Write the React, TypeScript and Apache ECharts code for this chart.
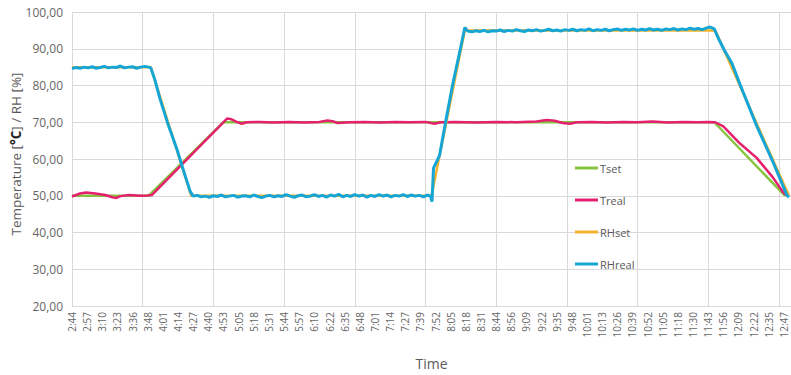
import React, { useEffect, useRef } from "react";
import * as echarts from "echarts";

// Time labels shown every 15 samples along the time axis (sample index 0..712)
const timeLabels = [
  "2:44", "2:57", "3:10", "3:23", "3:36", "3:48", "4:01", "4:14", "4:27", "4:40",
  "4:53", "5:05", "5:18", "5:31", "5:44", "5:57", "6:10", "6:22", "6:35", "6:48",
  "7:01", "7:14", "7:27", "7:39", "7:52", "8:05", "8:18", "8:31", "8:44", "8:56",
  "9:09", "9:22", "9:35", "9:48", "10:01", "10:13", "10:26", "10:39", "10:52", "11:05",
  "11:18", "11:30", "11:43", "11:56", "12:09", "12:22", "12:35", "12:47",
];
const LABEL_STEP = 15;
const GRID_STEP = 70;
const X_MAX = 712;

// [sample index, value]
const tSet = [[0, 50], [76, 50], [150, 70], [636, 70], [706, 50]];
const tReal = [
  [0, 49.8], [8, 50.6], [14, 50.9], [23, 50.6], [33, 50.2], [40, 49.6], [44, 49.4], [48, 49.9],
  [57, 50.2], [67, 50.0], [75, 50.1], [79, 50.2], [153.5, 71.0], [158, 70.8], [163, 70.1],
  [168, 69.6], [173, 70.0], [186, 70.1], [200, 69.9], [215, 70.1], [230, 69.9], [245, 70.1],
  [253, 70.5], [258, 70.3], [263, 69.8], [275, 70.0], [290, 70.1], [305, 69.9], [320, 70.1],
  [335, 70.0], [350, 70.1], [359, 69.6], [365, 70.0], [380, 70.1], [400, 69.9], [420, 70.1],
  [440, 70.0], [460, 70.2], [470, 70.6], [478, 70.4], [486, 69.8], [493, 69.6], [500, 70.0],
  [515, 70.1], [530, 69.9], [545, 70.1], [560, 70.0], [575, 70.2], [590, 69.9], [605, 70.1],
  [620, 70.0], [630, 70.1], [637, 70.0], [645, 68.9], [661.5, 64.2], [678, 60.3], [694, 55.0],
  [704, 51.0], [708, 50.0],
];
const rhSet = [[0, 85], [78, 85], [118, 50], [356, 50], [389, 95], [637, 95], [710, 50]];
const rhReal = [
  [0, 84.6], [4, 84.9], [8, 84.7], [12, 85.0], [16, 84.8], [20, 85.1], [24, 84.7], [28, 84.9],
  [32, 85.2], [36, 84.8], [40, 85.0], [44, 84.9], [48, 85.3], [52, 84.8], [56, 85.0], [60, 85.1],
  [64, 84.7], [68, 85.0], [72, 85.2], [76, 85.0], [78, 84.8],
  [82, 81.6], [87, 76.5], [95, 69.5], [104, 62.6], [110, 57.2], [117, 51.2], [120, 49.9],
  [124, 50.1], [128, 49.7], [132, 49.9], [136, 49.6], [140, 50.0], [144, 49.8], [148, 50.2],
  [152, 49.7], [156, 49.9], [160, 50.1], [164, 49.6], [168, 49.9], [172, 50.0], [176, 49.7],
  [180, 50.2], [184, 49.8], [188, 49.5], [192, 49.9], [196, 50.1], [200, 49.7], [204, 50.0],
  [208, 49.8], [212, 50.3], [216, 49.9], [220, 49.6], [224, 50.0], [228, 50.2], [232, 49.7],
  [236, 49.9], [240, 50.3], [244, 49.8], [248, 50.1], [252, 49.6], [256, 50.2], [260, 49.9],
  [264, 50.4], [268, 49.7], [272, 50.1], [276, 49.8], [280, 50.3], [284, 49.9], [288, 50.2],
  [292, 49.6], [296, 50.1], [300, 49.8], [304, 50.3], [308, 49.9], [312, 50.2], [316, 49.7],
  [320, 50.1], [324, 49.9], [328, 50.3], [332, 49.8], [336, 50.2], [340, 49.9], [344, 50.1],
  [348, 49.7], [352, 50.2], [355, 49.9],
  [356.5, 48.4], [358, 57.5], [364, 61.0], [371, 71.6], [377, 80.3], [384, 89.2], [389, 95.8],
  [392, 94.8], [396, 94.6], [400, 94.9], [404, 94.7], [408, 95.0], [412, 94.6], [416, 94.9],
  [420, 94.8], [424, 95.1], [428, 94.7], [432, 95.0], [436, 94.8], [440, 95.2], [444, 94.9],
  [448, 94.7], [452, 95.1], [456, 94.9], [460, 95.2], [464, 94.8], [468, 95.0], [472, 95.3],
  [476, 94.9], [480, 95.1], [484, 94.8], [488, 95.2], [492, 95.0], [496, 95.3], [500, 94.9],
  [504, 95.2], [508, 95.0], [512, 95.4], [516, 94.9], [520, 95.2], [524, 95.0], [528, 95.3],
  [532, 94.9], [536, 95.2], [540, 95.4], [544, 95.0], [548, 95.3], [552, 95.1], [556, 95.4],
  [560, 95.0], [564, 95.3], [568, 95.1], [572, 95.5], [576, 95.1], [580, 95.3], [584, 95.0],
  [588, 95.4], [592, 95.2], [596, 95.5], [600, 95.1], [604, 95.4], [608, 95.2], [612, 95.6],
  [616, 95.3], [620, 95.5], [624, 95.2], [628, 95.6], [632, 95.9], [636, 95.4],
  [641, 92.3], [646, 89.6], [653.6, 86.0], [661.5, 80.3], [678, 69.0], [694, 59.3], [708, 50.1],
  [710, 49.6],
];

const seriesNames = ["Tset", "Treal", "RHset", "RHreal"];
const seriesColors = ["#86c440", "#e5206e", "#f2b32a", "#16a6d6"];
const seriesWidths = [2.5, 2.5, 2.5, 3];
const seriesData = [tSet, tReal, rhSet, rhReal];

const FONT = "'Open Sans', 'Noto Sans', sans-serif";
const GRAY = "#595959";
const GRID_GRAY = "#d9d9d9";

export default function App() {
  const ref = useRef<HTMLDivElement>(null);
  useEffect(() => {
    if (!ref.current) return;
    const chart = echarts.init(ref.current, undefined, { renderer: "svg" });
    chart.setOption({
      animation: false,
      backgroundColor: "#ffffff",
      textStyle: { fontFamily: FONT },
      grid: { left: 72, right: 0, top: 12, bottom: 59, containLabel: false },
      legend: {
        orient: "vertical",
        left: 575,
        top: 162,
        itemWidth: 23,
        itemHeight: 3,
        itemGap: 20,
        padding: 0,
        icon: "rect",
        data: seriesNames,
        textStyle: {
          color: GRAY,
          fontSize: 11,
          lineHeight: 12,
          fontFamily: FONT,
          padding: [0, 0, 0, -3],
        },
      },
      graphic: [
        {
          type: "text",
          x: 16,
          y: 154,
          rotation: Math.PI / 2,
          style: {
            text: "{a|Temperature [}{b|°C}{a|] / RH [%]}",
            align: "center",
            verticalAlign: "middle",
            rich: {
              a: { fill: GRAY, fontSize: 13.5, fontFamily: FONT },
              b: { fill: "#222222", fontSize: 13.5, fontWeight: "bold", fontFamily: FONT },
            },
          },
        },
      ],
      xAxis: [
        {
          type: "value",
          min: 0,
          max: X_MAX,
          interval: GRID_STEP,
          position: "bottom",
          axisLine: { show: true, lineStyle: { color: GRID_GRAY } },
          axisTick: { show: false },
          axisLabel: { show: false },
          splitLine: { show: true, lineStyle: { color: GRID_GRAY, width: 1 } },
        },
        {
          type: "value",
          min: 0,
          max: X_MAX,
          interval: LABEL_STEP,
          position: "bottom",
          axisLine: { show: false },
          axisTick: { show: false },
          splitLine: { show: false },
          name: "Time",
          nameLocation: "middle",
          nameGap: 50,
          nameTextStyle: { color: GRAY, fontSize: 14, fontFamily: FONT },
          axisLabel: {
            show: true,
            rotate: 90,
            margin: 6,
            fontSize: 10,
            color: "#666666",
            fontFamily: FONT,
            showMaxLabel: false,
            formatter: (v: number) => {
              const r = Math.round(v);
              if (r % LABEL_STEP !== 0) return "";
              return timeLabels[r / LABEL_STEP] ?? "";
            },
          },
        },
      ],
      yAxis: {
        type: "value",
        min: 20,
        max: 100,
        interval: 10,
        axisLine: { show: false },
        axisTick: { show: false },
        splitLine: { show: true, lineStyle: { color: GRID_GRAY, width: 1 } },
        axisLabel: {
          color: "#666666",
          fontSize: 12,
          margin: 9,
          fontFamily: FONT,
          formatter: (v: number) => v.toFixed(2).replace(".", ","),
        },
      },
      series: seriesNames.map((name, i) => ({
        name,
        type: "line",
        xAxisIndex: 0,
        data: seriesData[i],
        symbol: "none",
        showSymbol: false,
        smooth: false,
        color: seriesColors[i],
        lineStyle: { color: seriesColors[i], width: seriesWidths[i] },
      })),
    });
    return () => chart.dispose();
  }, []);
  return (
    <div
      ref={ref}
      style={{ position: "fixed", left: 0, top: 0, width: 791, height: 375 }}
    />
  );
}
